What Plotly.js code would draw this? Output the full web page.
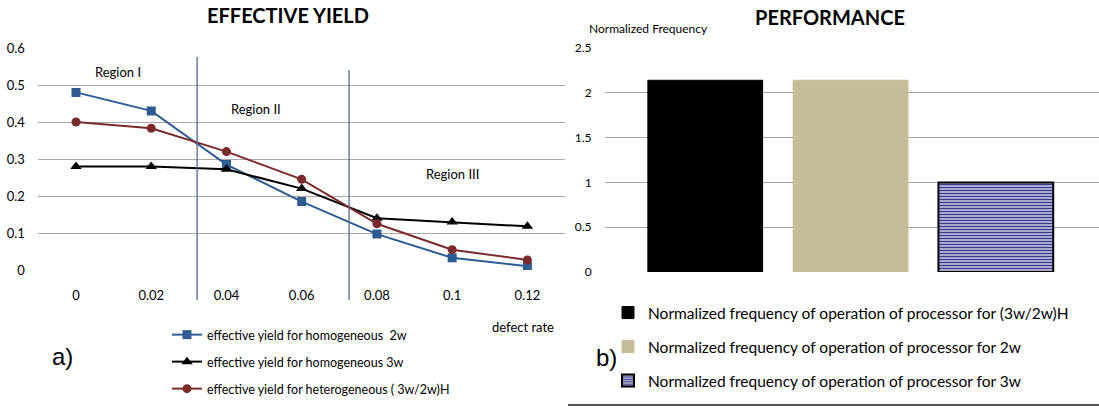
<!DOCTYPE html>
<html>
<head>
<meta charset="utf-8">
<script src="https://cdn.plot.ly/plotly-3.0.1.min.js"></script>
<style>html,body{margin:0;padding:0;background:#fff;}#chart{width:1099px;height:408px;}</style>
</head>
<body>
<div id="chart"></div>
<script>
// ---- data ----
const defectRate = [0, 0.02, 0.04, 0.06, 0.08, 0.1, 0.12];
const defectRateLabels = ['0', '0.02', '0.04', '0.06', '0.08', '0.1', '0.12'];
const yieldHomo2w = [0.48, 0.43, 0.285, 0.185, 0.097, 0.033, 0.01];
const yieldHomo3w = [0.28, 0.28, 0.272, 0.22, 0.14, 0.13, 0.118];
const yieldHetero = [0.40, 0.383, 0.32, 0.245, 0.125, 0.055, 0.027];
const lineNames = [
  'effective yield for homogeneous  2w',
  'effective yield for homogeneous 3w',
  'effective yield for heterogeneous ( 3w/2w)H'
];
const regionBounds = [0.0322, 0.0726];
const regionLabels = ['Region I', 'Region II', 'Region III'];

const freqCategories = ['(3w/2w)H', '2w', '3w'];
const freqValues = [2.14, 2.14, 1.0];
const freqNames = [
  'Normalized frequency of operation of processor for (3w/2w)H',
  'Normalized frequency of operation of processor for 2w',
  'Normalized frequency of operation of processor for 3w'
];

// ---- styling ----
const FONT = 'Lato, "Liberation Sans", Arial, sans-serif';
const SANS = '"Liberation Sans", Arial, sans-serif';
const H = 408, W = 1099;
const py = p => 1 - p / H;
const px = p => p / W;

const traces = [
  {x: defectRate, y: yieldHomo2w, name: lineNames[0], type: 'scatter', mode: 'lines+markers',
   line: {color: '#2d5c93', width: 2}, marker: {symbol: 'square', size: 9, color: '#2d5c93'},
   xaxis: 'x', yaxis: 'y', legend: 'legend', showlegend: true},
  {x: defectRate, y: yieldHomo3w, name: lineNames[1], type: 'scatter', mode: 'lines+markers',
   line: {color: '#000000', width: 2}, marker: {symbol: 'triangle-up', size: 10, color: '#000000'},
   xaxis: 'x', yaxis: 'y', legend: 'legend2', showlegend: true},
  {x: defectRate, y: yieldHetero, name: lineNames[2], type: 'scatter', mode: 'lines+markers',
   line: {color: '#7a2a2a', width: 2}, marker: {symbol: 'circle', size: 9, color: '#7a2a2a'},
   xaxis: 'x', yaxis: 'y', legend: 'legend3', showlegend: true},
  {x: [freqCategories[0]], y: [freqValues[0]], name: freqNames[0], type: 'bar', width: 0.79,
   marker: {color: '#000000', line: {color: '#000000', width: 1}},
   xaxis: 'x2', yaxis: 'y2', legend: 'legend4', showlegend: true},
  {x: [freqCategories[1]], y: [freqValues[1]], name: freqNames[1], type: 'bar', width: 0.79,
   marker: {color: '#c4bd97', line: {color: '#c4bd97', width: 1}},
   xaxis: 'x2', yaxis: 'y2', legend: 'legend5', showlegend: true},
  {x: [freqCategories[2]], y: [freqValues[2]], name: freqNames[2], type: 'bar', width: 0.79,
   marker: {color: '#cacaea', line: {color: '#000000', width: 2},
            pattern: {shape: '-', fgcolor: '#3c3c8a', bgcolor: '#cacaea', size: 3, solidity: 0.5}},
   xaxis: 'x2', yaxis: 'y2', legend: 'legend6', showlegend: true}
];

function legendAt(x, y, size) {
  return {x: px(x), y: py(y), xanchor: 'left', yanchor: 'middle', bgcolor: 'rgba(0,0,0,0)', visible: true,
          borderwidth: 0, font: {family: FONT, size: size, color: '#000'}, itemwidth: 30};
}

function note(text, x, y, size, fam, anchor) {
  return {text: text, xref: 'paper', yref: 'paper', x: px(x), y: py(y),
          xanchor: anchor || 'center', yanchor: 'middle', showarrow: false,
          font: {family: fam || FONT, size: size, color: '#000'}};
}

const annotations = [
  note('<b>EFFECTIVE YIELD</b>', 288, 15, 20),
  note('<b>PERFORMANCE</b>', 830, 17, 20),
  note('Normalized Frequency', 587, 29, 12, FONT, 'left'),
  note('defect rate', 523, 327, 13),
  note('a)', 62, 356, 24, SANS),
  note('b)', 606, 357, 24, SANS),
  note(regionLabels[0], 118, 72, 13),
  note(regionLabels[1], 256, 109, 13),
  note(regionLabels[2], 452, 174, 13)
];

const shapes = [
  {type: 'line', xref: 'x', yref: 'paper', x0: regionBounds[0], x1: regionBounds[0], y0: py(300), y1: py(57),
   line: {color: '#4f6b8a', width: 1.3}},
  {type: 'line', xref: 'x', yref: 'paper', x0: regionBounds[1], x1: regionBounds[1], y0: py(300), y1: py(70),
   line: {color: '#4f6b8a', width: 1.3}},
  {type: 'line', xref: 'paper', yref: 'paper', x0: px(568), x1: 1, y0: py(405), y1: py(405),
   line: {color: '#555555', width: 2}}
];

const layout = {
  width: W, height: H, margin: {l: 0, r: 0, t: 0, b: 0},
  paper_bgcolor: '#fff', plot_bgcolor: 'rgba(0,0,0,0)',
  font: {family: FONT, size: 11, color: '#000'},
  showlegend: true,
  barmode: 'overlay',
  xaxis: {domain: [px(38.4), px(565)], range: [-0.01, 0.13], tickvals: defectRate, ticktext: defectRateLabels,
          showgrid: false, zeroline: false, showline: false, ticks: 'outside', ticklen: 13,
          tickcolor: 'rgba(0,0,0,0)', tickfont: {family: FONT, size: 13}, fixedrange: true},
  yaxis: {domain: [py(270), py(48)], range: [0, 0.6], dtick: 0.1, showgrid: true, gridcolor: '#a8a8a8',
          gridwidth: 1, zeroline: false, showline: false, ticks: 'outside', ticklen: 10,
          tickcolor: 'rgba(0,0,0,0)', tickfont: {family: FONT, size: 13}, fixedrange: true},
  xaxis2: {domain: [px(605), 1], anchor: 'y2', range: [-0.69, 2.71], showticklabels: false,
           showgrid: false, zeroline: false, showline: false, ticks: '', fixedrange: true},
  yaxis2: {domain: [py(272), py(48)], anchor: 'x2', range: [0, 2.5], dtick: 0.5, showgrid: true,
           gridcolor: '#a8a8a8', gridwidth: 1, zeroline: false, showline: false, ticks: 'outside',
           ticklen: 10, tickcolor: 'rgba(0,0,0,0)', tickfont: {family: FONT, size: 12}, fixedrange: true},
  legend: legendAt(167, 335, 12.5),
  legend2: legendAt(167, 362, 12.5),
  legend3: legendAt(167, 389, 12.5),
  legend4: legendAt(608, 313, 15.5),
  legend5: legendAt(608, 347, 15.5),
  legend6: legendAt(608, 381, 15.5),
  annotations: annotations,
  shapes: shapes
};

Plotly.newPlot('chart', traces, layout, {displayModeBar: false, staticPlot: true});
</script>
</body>
</html>
